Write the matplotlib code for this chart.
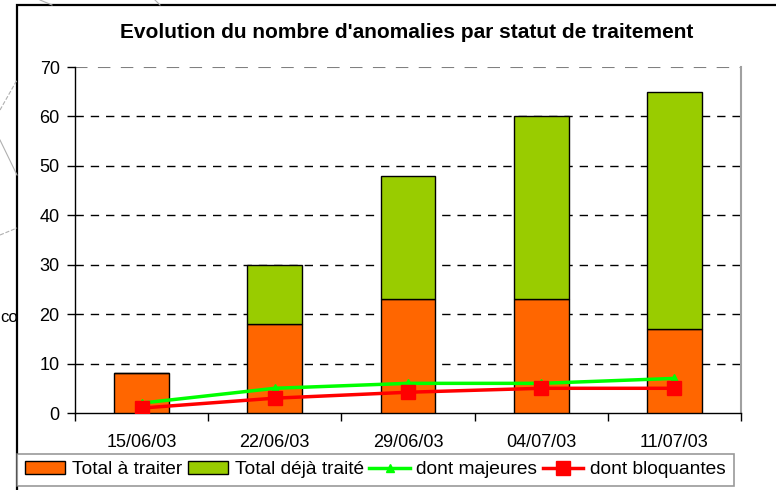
import matplotlib.pyplot as plt
from matplotlib.patches import Rectangle
from matplotlib.lines import Line2D

plt.rcParams['font.family'] = ['Liberation Sans', 'DejaVu Sans']

# donnees
dates = ['15/06/03', '22/06/03', '29/06/03', '04/07/03', '11/07/03']
a_traiter = [8, 18, 23, 23, 17]
deja_traite = [0, 12, 25, 37, 48]
majeures = [2, 5, 6, 6, 7]
bloquantes = [1, 3, 4.2, 5, 5]

fig = plt.figure(figsize=(7.76, 4.9), dpi=100)
W, H = 776, 490

# decor de fond (diapo)
for (x0, y0, x1, y1, ls) in [(40, 0, 52, 5, '-'), (0, 110, 17, 80, '--'),
                             (0, 140, 17, 175, '-'), (0, 235, 17, 228, '--'),
                             (155, 0, 160, 5, '-')]:
    fig.add_artist(Line2D([x0 / W, x1 / W], [1 - y0 / H, 1 - y1 / H],
                          color='#b0b0b0', lw=0.8, ls=ls))
fig.text(0 / W, 1 - 318 / H, 'co', fontsize=12, va='center', ha='left')

# cadre du graphique
fig.add_artist(Rectangle((17 / W, -0.05), 1.0, 1 - 5 / H + 0.05,
                         transform=fig.transFigure, facecolor='white',
                         edgecolor='black', lw=1.6, zorder=0.5))

ax = fig.add_axes([75 / W, 1 - 413 / H, (741 - 75) / W, (413 - 67) / H])
ax.set_zorder(2)
x = range(len(dates))
b1 = ax.bar(x, a_traiter, width=0.41, color='#FF6600', edgecolor='black',
            lw=1, label='Total à traiter', zorder=3)
b2 = ax.bar(x, deja_traite, width=0.41, bottom=a_traiter, color='#99CC00',
            edgecolor='black', lw=1, label='Total déjà traité', zorder=3)
l1, = ax.plot(x, majeures, color='#00FF00', lw=2.5, marker='^', ms=6,
              label='dont majeures', zorder=4)
l2, = ax.plot(x, bloquantes, color='#FF0000', lw=2.5, marker='s', ms=10,
              label='dont bloquantes', zorder=5)

ax.set_xlim(-0.5, 4.5)
ax.set_ylim(0, 70)
ax.set_yticks(range(0, 71, 10))
ax.set_xticks(x)
ax.set_xticklabels(dates)
ax.set_xticks([i - 0.5 for i in range(6)], minor=True)
ax.tick_params(axis='x', which='major', length=0, pad=15, labelsize=13)
ax.tick_params(axis='x', which='minor', length=6, direction='out', width=1)
ax.tick_params(axis='y', length=6, direction='out', width=1, labelsize=13,
               pad=5)
for yv in range(10, 70, 10):
    ax.axhline(yv, color='black', lw=1, ls=(0, (6, 5)), zorder=1)
ax.axhline(70, color='#808080', lw=1.5, ls=(0, (6, 5)), zorder=1)
ax.spines['top'].set_visible(False)
ax.spines['right'].set_color('#a0a0a0')
ax.spines['right'].set_linewidth(1.5)
ax.spines['left'].set_linewidth(1)
ax.spines['bottom'].set_linewidth(1)

fig.text(407 / W, 1 - 33 / H,
         "Evolution du nombre d'anomalies par statut de traitement",
         ha='center', va='center', fontsize=15, fontweight='bold')

leg = fig.legend([b1, b2, l1, l2],
                 ['Total à traiter', 'Total déjà traité', 'dont majeures',
                  'dont bloquantes'],
                 ncol=4, loc='lower left',
                 bbox_to_anchor=(17 / W, 1 - 486 / H), fontsize=13.8,
                 frameon=True, fancybox=False, edgecolor='#808080',
                 handlelength=2.1, handleheight=0.6, handletextpad=0.35,
                 columnspacing=0.3, borderpad=0.4, borderaxespad=0)
leg.get_frame().set_linewidth(1.2)

fig.savefig('out.png', dpi=100)
